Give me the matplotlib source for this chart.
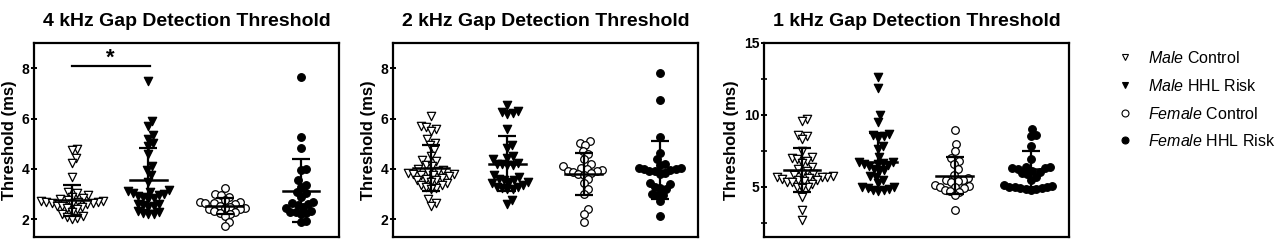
import matplotlib
matplotlib.use("Agg")
import matplotlib.pyplot as plt
from matplotlib.lines import Line2D
import numpy as np

plt.rcParams['font.family'] = ['Liberation Sans', 'DejaVu Sans']
plt.rcParams['mathtext.fontset'] = 'custom'
plt.rcParams['mathtext.rm'] = 'Liberation Sans'
plt.rcParams['mathtext.it'] = 'Liberation Sans:italic'

titles = ["4 kHz Gap Detection Threshold",
          "2 kHz Gap Detection Threshold",
          "1 kHz Gap Detection Threshold"]
legend_labels = [r"$\it{Male}$ Control", r"$\it{Male}$ HHL Risk",
                 r"$\it{Female}$ Control", r"$\it{Female}$ HHL Risk"]

# 4 kHz thresholds (ms)
k4_male_ctrl = [4.8, 4.75, 4.45, 4.25, 3.7, 3.1, 3.05, 2.95, 2.9, 2.85, 2.8, 2.76,
                2.73, 2.71, 2.7, 2.69, 2.68, 2.66, 2.64, 2.62, 2.6, 2.55, 2.52, 2.48,
                2.45, 2.4, 2.3, 2.22, 2.15, 2.1, 2.05, 2.0]
k4_male_hhl = [7.5, 5.9, 5.7, 5.35, 5.2, 5.05, 4.9, 4.6, 4.1, 3.95, 3.75, 3.5,
               3.15, 3.12, 3.08, 3.05, 3.0, 2.95, 2.92, 2.88, 2.85, 2.8, 2.62, 2.6,
               2.56, 2.54, 2.5, 2.32, 2.28, 2.25, 2.23, 2.2]
k4_fem_ctrl = [3.25, 3.0, 2.95, 2.9, 2.75, 2.7, 2.67, 2.65, 2.63, 2.6, 2.55, 2.5,
               2.47, 2.45, 2.42, 2.4, 2.35, 2.3, 2.25, 2.2, 2.15, 1.9, 1.72]
k4_fem_hhl = [7.65, 5.25, 4.82, 4.0, 3.95, 3.55, 3.35, 3.3, 3.1, 3.05, 2.9, 2.7,
              2.65, 2.62, 2.58, 2.5, 2.45, 2.35, 2.3, 2.28, 2.25, 2.22, 1.95, 1.88]
k4_mean = [2.75, 3.55, 2.53, 3.14]
k4_sd = [0.63, 1.27, 0.32, 1.24]

# 2 kHz thresholds (ms)
k2_male_ctrl = [6.1, 5.7, 5.65, 5.6, 5.5, 5.2, 5.05, 4.95, 4.75, 4.5, 4.35, 4.3,
                4.15, 4.1, 4.0, 3.95, 3.9, 3.88, 3.85, 3.82, 3.8, 3.78, 3.75, 3.72,
                3.65, 3.6, 3.58, 3.55, 3.5, 3.45, 3.38, 3.35, 3.3, 3.25, 3.2, 2.8,
                2.65, 2.55]
k2_male_hhl = [6.55, 6.3, 6.25, 6.22, 6.2, 5.6, 4.95, 4.85, 4.5, 4.45, 4.4, 4.25,
               4.2, 4.19, 4.17, 4.15, 3.75, 3.7, 3.6, 3.58, 3.55, 3.5, 3.48, 3.45,
               3.35, 3.3, 3.28, 3.25, 3.22, 3.2, 2.75, 2.62]
k2_fem_ctrl = [5.1, 5.05, 4.95, 4.7, 4.6, 4.4, 4.2, 4.1, 4.05, 4.0, 3.95, 3.92,
               3.9, 3.88, 3.85, 3.8, 3.75, 3.6, 3.45, 3.2, 3.0, 2.4, 2.2, 1.9]
k2_fem_hhl = [7.8, 6.75, 5.25, 4.65, 4.4, 4.2, 4.15, 4.05, 4.02, 4.0, 3.98, 3.95,
              3.92, 3.9, 3.85, 3.8, 3.45, 3.4, 3.3, 3.25, 3.2, 3.02, 2.98, 2.95,
              2.72, 2.15]
k2_mean = [4.04, 4.21, 3.79, 3.95]
k2_sd = [0.91, 1.08, 0.83, 1.16]

# 1 kHz thresholds (ms)
k1_male_ctrl = [9.7, 9.6, 8.6, 8.55, 8.3, 7.5, 7.1, 7.0, 6.9, 6.8, 6.65, 6.4,
                6.2, 6.1, 5.9, 5.85, 5.8, 5.75, 5.7, 5.68, 5.65, 5.6, 5.55, 5.5,
                5.45, 5.4, 5.35, 5.3, 5.2, 5.0, 4.95, 4.9, 4.3, 3.4, 2.65]
k1_male_hhl = [12.6, 11.9, 10.0, 9.5, 8.7, 8.6, 8.5, 8.4, 7.8, 7.6, 7.1, 6.75,
               6.7, 6.65, 6.6, 6.55, 6.5, 6.45, 6.2, 6.15, 6.1, 5.75, 5.7, 5.45,
               5.25, 5.0, 4.95, 4.9, 4.85, 4.8, 4.75, 4.7]
k1_fem_ctrl = [8.95, 8.0, 7.5, 7.0, 6.8, 6.6, 6.2, 5.8, 5.6, 5.5, 5.45, 5.4,
               5.35, 5.1, 5.05, 5.0, 4.95, 4.9, 4.8, 4.7, 4.65, 4.4, 3.4]
k1_fem_hhl = [9.0, 8.6, 8.5, 7.85, 6.9, 6.4, 6.35, 6.3, 6.27, 6.25, 6.1, 6.0,
              5.95, 5.9, 5.7, 5.5, 5.1, 5.05, 5.0, 4.98, 4.95, 4.92, 4.9, 4.87,
              4.85, 4.8]
k1_mean = [6.16, 6.74, 5.77, 6.25]
k1_sd = [1.52, 1.98, 1.27, 1.24]

panels = [
    ([k4_male_ctrl, k4_male_hhl, k4_fem_ctrl, k4_fem_hhl], k4_mean, k4_sd),
    ([k2_male_ctrl, k2_male_hhl, k2_fem_ctrl, k2_fem_hhl], k2_mean, k2_sd),
    ([k1_male_ctrl, k1_male_hhl, k1_fem_ctrl, k1_fem_hhl], k1_mean, k1_sd),
]
ylims = [(1.3, 9.0), (1.3, 9.0), (1.5, 15.0)]
yticks = [[2, 4, 6, 8], [2, 4, 6, 8], [5, 10, 15]]

# marker style per group: (marker, facecolor)
styles = [("v", "white"), ("v", "black"), ("o", "white"), ("o", "black")]


def swarm(values, px_y, px_x, d, squeeze=0.72):
    """Simple beeswarm: x offsets (data units); squeeze < 1 lets markers overlap sideways."""
    vals = np.asarray(values, dtype=float)
    xs = np.zeros(len(vals))
    placed = []
    for i in np.argsort(vals):
        y = vals[i] * px_y
        near = [(px, py) for px, py in placed if abs(py - y) < d]
        cands = [0.0]
        for px, py in near:
            dx = np.sqrt(d ** 2 - (py - y) ** 2)
            cands += [px + dx, px - dx]
        cands.sort(key=lambda c: (round(abs(c), 6), -c))
        for c in cands:
            if all((c - px) ** 2 + (y - py) ** 2 >= d ** 2 - 1e-6 for px, py in near):
                xs[i] = c
                placed.append((c, y))
                break
    return xs * squeeze / px_x


fig = plt.figure(figsize=(12.8, 2.52), dpi=100)
lefts = [34, 393, 764]
ax_w, ax_h = 305, 194
bottom_px = 15

for k, (data, means, sds) in enumerate(panels):
    ax = fig.add_axes([lefts[k] / 1280, bottom_px / 252, ax_w / 1280, ax_h / 252])
    lo, hi = ylims[k]
    px_y = ax_h / (hi - lo)
    px_x = ax_w / 4.0
    for g, vals in enumerate(data):
        mk, fc = styles[g]
        x = g + swarm(vals, px_y, px_x, 7.5)
        ax.scatter(x, vals, marker=mk, s=36 if mk == "v" else 30, facecolors=fc,
                   edgecolors="black", linewidths=0.9, zorder=2)
        ax.plot([g - 0.24, g + 0.24], [means[g], means[g]], color="black", lw=1.8, zorder=3)
        ax.errorbar(g, means[g], yerr=sds[g], fmt="none", ecolor="black",
                    elinewidth=1.6, capsize=6.5, capthick=1.6, zorder=3)
    ax.set_xlim(-0.5, 3.5)
    ax.set_ylim(lo, hi)
    ax.set_xticks([])
    ax.set_yticks(yticks[k])
    if k == 2:
        ax.set_yticks([2.5, 7.5, 12.5], minor=True)
    ax.tick_params(axis="y", which="major", direction="inout", length=5, width=1.4,
                   pad=1, labelsize=10)
    ax.tick_params(axis="y", which="minor", direction="inout", length=4, width=1.2)
    for lab in ax.get_yticklabels():
        lab.set_fontweight("bold")
    for sp in ax.spines.values():
        sp.set_linewidth(1.6)
    ax.set_ylabel("Threshold (ms)", fontsize=12, fontweight="bold", labelpad=3)
    ax.set_title(titles[k], fontsize=14, fontweight="bold", pad=12)
    if k == 0:
        ax.plot([0, 1.02], [8.07, 8.07], color="black", lw=1.6)
        ax.text(0.5, 7.98, "*", ha="center", va="bottom", fontsize=16, fontweight="bold")

# legend
rows_px = [57, 85, 113, 140]
for (mk, fc), lab, ry in zip(styles, legend_labels, rows_px):
    yf = 1 - ry / 252
    fig.add_artist(Line2D([1125 / 1280], [yf], transform=fig.transFigure, marker=mk,
                          markersize=5, markerfacecolor=fc, markeredgecolor="black",
                          markeredgewidth=0.8, linestyle="none"))
    fig.text(1148 / 1280, 1 - (ry + 6) / 252, lab, fontsize=11.5, va="baseline", ha="left")

fig.savefig("out.png", dpi=100)
